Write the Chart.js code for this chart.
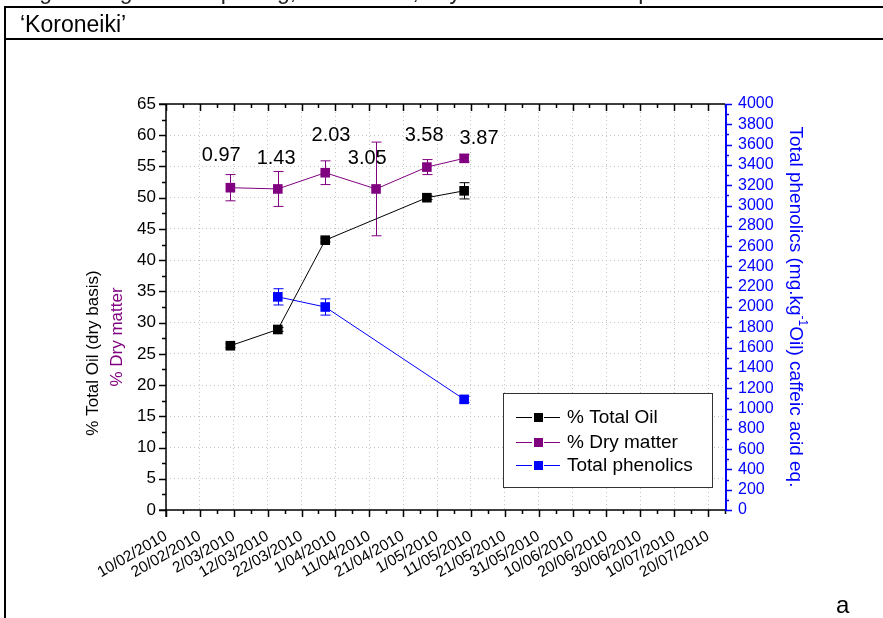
<!DOCTYPE html>
<html>
<head>
<meta charset="utf-8">
<script src="https://cdn.jsdelivr.net/npm/chart.js@4.4.0/dist/chart.umd.min.js"></script>
<style>
  html, body { margin: 0; padding: 0; background: #fff; }
  #wrap { position: relative; width: 883px; height: 618px; overflow: hidden; font-family: "Liberation Sans", Arial, sans-serif; color: #000; }
  #myChart { position: absolute; left: 0; top: 0; }
  .hline { position: absolute; left: 4px; right: 0; height: 2px; background: #000; }
  .vline { position: absolute; left: 4px; top: 6px; bottom: 0; width: 2px; background: #000; }
  #caption { position: absolute; left: 20px; top: -20px; font-size: 23px; line-height: 23px; white-space: nowrap; color: #222; }
  #variety { position: absolute; left: 20px; top: 13px; font-size: 23px; line-height: 23px; white-space: nowrap; }
  #panel { position: absolute; left: 836px; top: 593px; font-size: 24px; line-height: 24px; }
</style>
</head>
<body>
<div id="wrap">
  <canvas id="myChart" width="883" height="618"></canvas>
  <div class="hline" style="top:6px"></div>
  <div class="hline" style="top:38px"></div>
  <div class="vline"></div>
  <div id="caption">Fig. 1 Progress of ripening, Oil content, Dry matter and Total phenolics for cultivar</div>
  <div id="variety">‘Koroneiki’</div>
  <div id="panel">a</div>
</div>
<script>
// axis range (dates) and tick values
const xStart = '10/02/2010';
const xEnd = '25/07/2010';
const leftMax = 65;
const rightMax = 4000;

// sampling dates
const sampleDates = ['1/03/2010', '15/03/2010', '29/03/2010', '13/04/2010', '28/04/2010', '9/05/2010'];

// series (null = not measured)
const totalOil = [26.3, 28.9, 43.2, null, 50.0, 51.1];
const totalOilErr = [0.3, 0.3, 0.3, null, 0.3, 1.3];
const dryMatter = [51.6, 51.4, 54.0, 51.4, 54.9, 56.3];
const dryMatterErr = [2.1, 2.8, 1.9, 7.5, 1.2, 0.6];
const phenolics = [null, 2100, 2000, null, null, 1090];
const phenolicsErr = [null, 80, 80, null, null, 30];

// numbers printed above the dry matter points
const ratioLabels = ['0.97', '1.43', '2.03', '3.05', '3.58', '3.87'];
const ratioLevels = [56.8, 56.3, 59.9, 56.3, 59.9, 59.4];
const ratioShiftDays = [-2.7, -0.5, 1.7, -2.6, -0.8, 4.4];

const FONT = '"Liberation Sans", Arial, sans-serif';
const BLACK = '#000000', PURPLE = '#800080', BLUE = '#0000ff';

function toDay(s) {
	const [d, m, y] = s.split('/').map(Number);
	const [d0, m0, y0] = xStart.split('/').map(Number);
	return Math.round((Date.UTC(y, m - 1, d) - Date.UTC(y0, m0 - 1, d0)) / 86400000);
}
function fromDay(v) {
	const [d0, m0, y0] = xStart.split('/').map(Number);
	const dt = new Date(Date.UTC(y0, m0 - 1, d0) + v * 86400000);
	return dt.getUTCDate() + '/' + String(dt.getUTCMonth() + 1).padStart(2, '0') + '/' + dt.getUTCFullYear();
}
function points(vals, errs) {
	return sampleDates
		.map((d, i) => ({ x: toDay(d), y: vals[i], e: errs[i] }))
		.filter(p => p.y != null);
}

// error bars under the markers
const errorBars = {
	id: 'errorBars',
	beforeDatasetsDraw(chart) {
		const ctx = chart.ctx;
		chart.data.datasets.forEach((ds, i) => {
			const meta = chart.getDatasetMeta(i);
			const ys = chart.scales[ds.yAxisID];
			ctx.save();
			ctx.strokeStyle = ds.borderColor;
			ctx.lineWidth = 1;
			ds.data.forEach((p, j) => {
				if (!p.e) return;
				const px = Math.round(meta.data[j].x) + 0.5;
				const top = ys.getPixelForValue(p.y + p.e);
				const bot = ys.getPixelForValue(p.y - p.e);
				ctx.beginPath();
				ctx.moveTo(px, top); ctx.lineTo(px, bot);
				ctx.moveTo(px - 5, top); ctx.lineTo(px + 5, top);
				ctx.moveTo(px - 5, bot); ctx.lineTo(px + 5, bot);
				ctx.stroke();
			});
			ctx.restore();
		});
	}
};

// axis lines, major/minor tick marks, top frame
const axisTicks = {
	id: 'axisTicks',
	afterDatasetsDraw(chart) {
		const ctx = chart.ctx, a = chart.chartArea;
		const x = chart.scales.x, y = chart.scales.y, y1 = chart.scales.y1;
		ctx.save();
		ctx.lineWidth = 1.5;
		ctx.strokeStyle = BLACK;
		ctx.beginPath();
		for (let v = x.min; v <= x.max; v += 5) {
			const px = Math.round(x.getPixelForValue(v)) + 0.5;
			const len = v % 10 === 0 ? 7 : 4;
			ctx.moveTo(px, a.bottom); ctx.lineTo(px, a.bottom + len);
			ctx.moveTo(px, a.top); ctx.lineTo(px, a.top + len);
		}
		for (let v = 0; v <= leftMax; v += 2.5) {
			const py = Math.round(y.getPixelForValue(v)) + 0.5;
			const len = v % 5 === 0 ? 7 : 4;
			ctx.moveTo(a.left - len, py); ctx.lineTo(a.left, py);
		}
		ctx.moveTo(a.left - 7, a.top); ctx.lineTo(a.right, a.top);
		ctx.moveTo(a.left, a.top); ctx.lineTo(a.left, a.bottom + 7);
		ctx.moveTo(a.left - 7, a.bottom); ctx.lineTo(a.right, a.bottom);
		ctx.stroke();

		ctx.strokeStyle = BLUE;
		ctx.beginPath();
		for (let v = 0; v <= rightMax; v += 100) {
			const py = Math.round(y1.getPixelForValue(v)) + 0.5;
			const len = v % 200 === 0 ? 7 : 4;
			ctx.moveTo(a.right, py); ctx.lineTo(a.right + len, py);
		}
		ctx.stroke();
		ctx.lineWidth = 2;
		ctx.beginPath();
		ctx.moveTo(a.right + 1, a.top); ctx.lineTo(a.right + 1, a.bottom);
		ctx.stroke();
		ctx.restore();
	}
};

// ratio numbers, axis titles, legend
const extras = {
	id: 'extras',
	afterDraw(chart) {
		const ctx = chart.ctx, a = chart.chartArea;
		const x = chart.scales.x, y = chart.scales.y;
		ctx.save();
		ctx.fillStyle = BLACK;
		ctx.font = '20px ' + FONT;
		ctx.textAlign = 'center';
		ctx.textBaseline = 'middle';
		ratioLabels.forEach((t, i) => {
			ctx.fillText(t, x.getPixelForValue(toDay(sampleDates[i]) + ratioShiftDays[i]), y.getPixelForValue(ratioLevels[i]));
		});

		// left titles
		ctx.font = '17px ' + FONT;
		ctx.save();
		ctx.translate(a.left - 73, a.bottom - 157);
		ctx.rotate(-Math.PI / 2);
		ctx.fillText('% Total Oil (dry basis)', 0, 0);
		ctx.restore();
		ctx.save();
		ctx.fillStyle = PURPLE;
		ctx.translate(a.left - 49, a.bottom - 173);
		ctx.rotate(-Math.PI / 2);
		ctx.fillText('% Dry matter', 0, 0);
		ctx.restore();

		// right title with superscript
		ctx.save();
		ctx.fillStyle = BLUE;
		ctx.translate(a.right + 70, (a.top + a.bottom) / 2);
		ctx.rotate(Math.PI / 2);
		ctx.textAlign = 'left';
		const big = '19px ' + FONT, small = '12px ' + FONT;
		const p1 = 'Total phenolics (mg.kg', sup = '-1', p2 = 'Oil) caffeic acid eq.';
		ctx.font = big; const w1 = ctx.measureText(p1).width, w3 = ctx.measureText(p2).width;
		ctx.font = small; const w2 = ctx.measureText(sup).width;
		let cx = -(w1 + w2 + w3) / 2;
		ctx.font = big; ctx.fillText(p1, cx, 0); cx += w1;
		ctx.font = small; ctx.fillText(sup, cx, -7); cx += w2;
		ctx.font = big; ctx.fillText(p2, cx, 0);
		ctx.restore();

		// legend box
		const bw = 209, bh = 94;
		const bx = a.right - 13 - bw, by = a.bottom - 23 - bh;
		ctx.fillStyle = '#fff';
		ctx.fillRect(bx, by, bw, bh);
		ctx.strokeStyle = '#333';
		ctx.lineWidth = 1;
		ctx.strokeRect(Math.round(bx) + 0.5, Math.round(by) + 0.5, bw, bh);
		ctx.font = '19px ' + FONT;
		ctx.textAlign = 'left';
		const rows = [24, 49, 72];
		chart.data.datasets.forEach((ds, i) => {
			const ry = Math.round(by + rows[i]) + 0.5;
			ctx.strokeStyle = ds.borderColor;
			ctx.beginPath(); ctx.moveTo(bx + 13, ry); ctx.lineTo(bx + 57, ry); ctx.stroke();
			ctx.fillStyle = '#fff';
			ctx.fillRect(bx + 29, ry - 6, 12, 12);
			ctx.fillStyle = ds.borderColor;
			ctx.fillRect(bx + 31, ry - 4.5, 9, 9);
			ctx.fillStyle = BLACK;
			ctx.fillText(ds.label, bx + 64, ry);
		});
		ctx.restore();
	}
};

function series(label, color, vals, errs, axis) {
	return {
		label: label,
		data: points(vals, errs),
		yAxisID: axis,
		borderColor: color,
		backgroundColor: color,
		borderWidth: 1,
		pointStyle: 'rect',
		pointRadius: 6.8,
		pointHoverRadius: 6.8,
		pointBackgroundColor: color,
		pointBorderColor: color,
		pointBorderWidth: 0,
		tension: 0,
		fill: false
	};
}

const ctx = document.getElementById('myChart');
new Chart(ctx, {
	type: 'line',
	data: {
		datasets: [
			series('% Total Oil', BLACK, totalOil, totalOilErr, 'y'),
			series('% Dry matter', PURPLE, dryMatter, dryMatterErr, 'y'),
			series('Total phenolics', BLUE, phenolics, phenolicsErr, 'y1')
		]
	},
	options: {
		responsive: false,
		animation: false,
		devicePixelRatio: 1,
		layout: { padding: { top: 104, left: 0, right: 0, bottom: 0 } },
		plugins: {
			legend: { display: false },
			tooltip: { enabled: false }
		},
		scales: {
			x: {
				type: 'linear',
				min: toDay(xStart),
				max: toDay(xEnd),
				afterFit: s => { s.height = 108; },
				border: { display: false, dash: [1, 3] },
				grid: {
					drawTicks: false,
					lineWidth: 1,
					color: c => (c.tick && c.tick.value % 10 === 0) ? '#c4c4c4' : 'rgba(0,0,0,0)'
				},
				ticks: {
					stepSize: 5,
					autoSkip: false,
					minRotation: 30,
					maxRotation: 30,
					padding: 17,
					color: BLACK,
					font: { family: FONT, size: 15.5 },
					callback: v => (v % 10 === 0 && v <= 160) ? fromDay(v) : ''
				}
			},
			y: {
				position: 'left',
				min: 0,
				max: leftMax,
				afterFit: s => { s.width = 166; },
				border: { display: false, dash: [1, 3] },
				grid: { drawTicks: false, color: '#c4c4c4', lineWidth: 1 },
				ticks: {
					stepSize: 5,
					autoSkip: false,
					padding: 10,
					color: BLACK,
					font: { family: FONT, size: 17 }
				}
			},
			y1: {
				position: 'right',
				min: 0,
				max: rightMax,
				afterFit: s => { s.width = 158; },
				border: { display: false },
				grid: { drawOnChartArea: false, drawTicks: false },
				ticks: {
					stepSize: 200,
					autoSkip: false,
					padding: 13,
					color: BLUE,
					font: { family: FONT, size: 16 },
					callback: v => String(v)
				}
			}
		}
	},
	plugins: [errorBars, axisTicks, extras]
});
</script>
</body>
</html>
